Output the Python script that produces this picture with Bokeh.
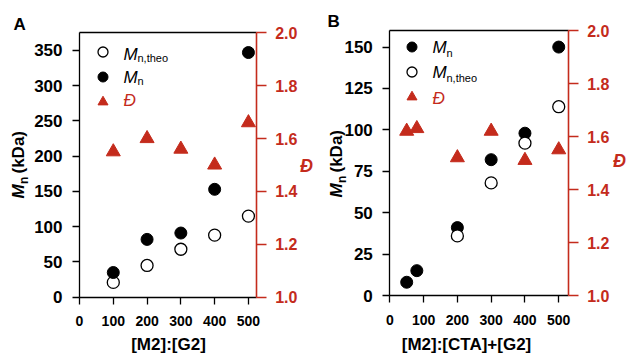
import math
from bokeh.plotting import figure
from bokeh.models import (Range1d, LinearAxis, FixedTicker, Label, Legend,
                          LegendItem, ColumnDataSource, CustomJSTickFormatter)
from bokeh.layouts import row
from bokeh.embed import file_html
from bokeh.resources import INLINE

RED = "#c42b1c"
FONT = "Liberation Sans"
H = 354

# ---------------- data ----------------
# Panel A
a_ratio = [100, 200, 300, 400, 500]
a_mn_theo = [21, 45, 68, 88, 115]
a_mn = [35, 82, 91, 153, 347]
a_dispersity = [1.55, 1.60, 1.56, 1.50, 1.66]

# Panel B
b_ratio_mn = [50, 80, 200, 300, 400, 500]
b_mn = [8, 15, 41, 82, 98, 150]
b_ratio_theo = [200, 300, 400, 500]
b_mn_theo = [36, 68, 92, 114]
b_ratio_d = [50, 80, 200, 300, 400, 500]
b_dispersity = [1.62, 1.63, 1.52, 1.62, 1.51, 1.55]

x_ticks = [0, 100, 200, 300, 400, 500]
a_y_ticks = [0, 50, 100, 150, 200, 250, 300, 350]
b_y_ticks = [0, 25, 50, 75, 100, 125, 150]
d_ticks = [1.0, 1.2, 1.4, 1.6, 1.8, 2.0]

a_xlabel = "[M2]:[G2]"
b_xlabel = "[M2]:[CTA]+[G2]"


def style_axis(ax, color, size, tick_out, standoff):
    ax.axis_line_color = color
    ax.axis_line_width = 1.3
    ax.major_tick_line_color = color
    ax.major_tick_line_width = 1.3
    ax.major_tick_in = 0
    ax.major_tick_out = tick_out
    ax.minor_tick_line_color = None
    ax.major_label_text_font = FONT
    ax.major_label_text_font_style = "bold"
    ax.major_label_text_font_size = f"{size}px"
    ax.major_label_text_color = color
    ax.major_label_standoff = standoff


def span(lo, hi, p_lo, p_hi, size):
    """data range covering the whole canvas, given the pixel span of [lo, hi]"""
    per_px = (hi - lo) / (p_hi - p_lo)
    return lo - p_lo * per_px, hi + (size - p_hi) * per_px


def make_panel(width, box, xmax, ymax, yticks):
    l, r, t, b = box  # plot box in canvas pixels
    x0, x1 = span(0, xmax, l, r, width)
    y0, y1 = span(0, ymax, H - b, H - t, H)
    d0, d1 = span(1.0, 2.0, H - b, H - t, H)
    p = figure(width=width, height=H, output_backend="svg", toolbar_location=None,
               x_range=Range1d(x0, x1), y_range=Range1d(y0, y1),
               min_border=0, min_border_left=0, min_border_right=0,
               min_border_top=0, min_border_bottom=0)
    p.xgrid.visible = False
    p.ygrid.visible = False
    p.outline_line_color = None
    p.extra_y_ranges = {"d": Range1d(d0, d1)}

    xa = p.xaxis[0]
    xa.fixed_location = 0
    xa.bounds = (0, xmax)
    xa.ticker = FixedTicker(ticks=x_ticks)
    style_axis(xa, "black", 14, 7, 12)

    ya = p.yaxis[0]
    ya.fixed_location = 0
    ya.bounds = (0, ymax)
    ya.ticker = FixedTicker(ticks=yticks)
    style_axis(ya, "black", 17, 7, 10)

    rax = LinearAxis(y_range_name="d", ticker=FixedTicker(ticks=d_ticks),
                     formatter=CustomJSTickFormatter(code="return tick.toFixed(1)"),
                     fixed_location=xmax, bounds=(1.0, 2.0))
    style_axis(rax, RED, 16, 10, 9)
    rax.axis_line_width = 1.6
    p.add_layout(rax, "right")

    top = LinearAxis(ticker=FixedTicker(ticks=[]), fixed_location=ymax, bounds=(0, xmax))
    top.axis_line_color = "black"
    top.axis_line_width = 1.3
    top.major_tick_line_color = None
    top.minor_tick_line_color = None
    p.add_layout(top, "above")
    return p


def add_text(p, cx0, px, py, text, size, style="bold", color="black",
             align="left", angle=0.0):
    # (px, py): canvas position of the text's anchor, vertically at its middle
    p.add_layout(Label(x=px - cx0, y=H - py, x_units="screen", y_units="screen",
                       text=text, text_font=FONT, text_font_size=f"{size}px",
                       text_font_style=style, text_color=color,
                       text_align=align, text_baseline="middle", angle=angle))


def make_legend(renderers, loc):
    items = [LegendItem(label=" " * (i + 1), renderers=[r]) for i, r in enumerate(renderers)]
    return Legend(items=items, location=loc, glyph_width=25, glyph_height=25,
                  label_height=25, label_width=0, spacing=0, padding=0, margin=0,
                  label_standoff=0, label_text_font_size="1px", label_text_alpha=0,
                  background_fill_alpha=0, border_line_alpha=0)


def y_title(p, cx0, xc, y_start):
    rot = math.pi / 2
    add_text(p, cx0, xc, y_start, "M", 17, "bold italic", angle=rot)
    add_text(p, cx0, xc + 5, y_start - 14.5, "n", 12, "bold", angle=rot)
    add_text(p, cx0, xc, y_start - 25, "(kDa)", 17, "bold", angle=rot)


# ---------------- Panel A ----------------
pa = make_panel(313, (79, 255.7, 32.3, 296.7), 523, 375, a_y_ticks)
src_a = ColumnDataSource(dict(x=a_ratio, theo=a_mn_theo, mn=a_mn, d=a_dispersity))
ra1 = pa.scatter("x", "theo", source=src_a, marker="circle", size=12,
                 fill_color="white", line_color="black", line_width=1.3)
ra2 = pa.scatter("x", "mn", source=src_a, marker="circle", size=12,
                 fill_color="black", line_color="black")
ra3 = pa.scatter("x", "d", source=src_a, marker="triangle", size=14,
                 fill_color=RED, line_color=RED, y_range_name="d")
pa.add_layout(make_legend([ra1, ra2, ra3], (89.5, H - 113.5)))

ca = 0
add_text(pa, ca, 13, 24, "A", 17)
y_title(pa, ca, 18, 198)
add_text(pa, ca, 168, 344, a_xlabel, 17, align="center")
add_text(pa, ca, 306, 165, "Đ", 18, "bold italic", color=RED, align="center")
add_text(pa, ca, 123, 53.5, "M", 17, "italic")
add_text(pa, ca, 137, 57.5, "n,theo", 11, "normal")
add_text(pa, ca, 123, 76.5, "M", 17, "italic")
add_text(pa, ca, 137, 80.5, "n", 11, "normal")
add_text(pa, ca, 123, 100, "Đ", 17, "italic", color=RED)

# ---------------- Panel B ----------------
pb = make_panel(314, (76.3, 254.7, 30, 295), 528, 160, b_y_ticks)
src_b1 = ColumnDataSource(dict(x=b_ratio_mn, mn=b_mn))
src_b2 = ColumnDataSource(dict(x=b_ratio_theo, theo=b_mn_theo))
src_b3 = ColumnDataSource(dict(x=b_ratio_d, d=b_dispersity))
rb1 = pb.scatter("x", "mn", source=src_b1, marker="circle", size=12,
                 fill_color="black", line_color="black")
rb2 = pb.scatter("x", "theo", source=src_b2, marker="circle", size=12,
                 fill_color="white", line_color="black", line_width=1.3)
rb3 = pb.scatter("x", "d", source=src_b3, marker="triangle", size=14,
                 fill_color=RED, line_color=RED, y_range_name="d")
pb.add_layout(make_legend([rb1, rb2, rb3], (411 - 313 - 12.5, H - 108.5)))

cb = 313
add_text(pb, cb, 327, 21, "B", 17)
y_title(pb, cb, 336, 197)
add_text(pb, cb, 466, 344, b_xlabel, 17, align="center")
add_text(pb, cb, 619, 160, "Đ", 18, "bold italic", color=RED, align="center")
add_text(pb, cb, 432, 46.5, "M", 17, "italic")
add_text(pb, cb, 446, 52.5, "n", 11, "normal")
add_text(pb, cb, 432, 71.5, "M", 17, "italic")
add_text(pb, cb, 446, 77.5, "n,theo", 11, "normal")
add_text(pb, cb, 432, 98, "Đ", 17, "italic", color=RED)

layout = row(pa, pb)
open("out.html", "w").write(file_html(layout, INLINE))
